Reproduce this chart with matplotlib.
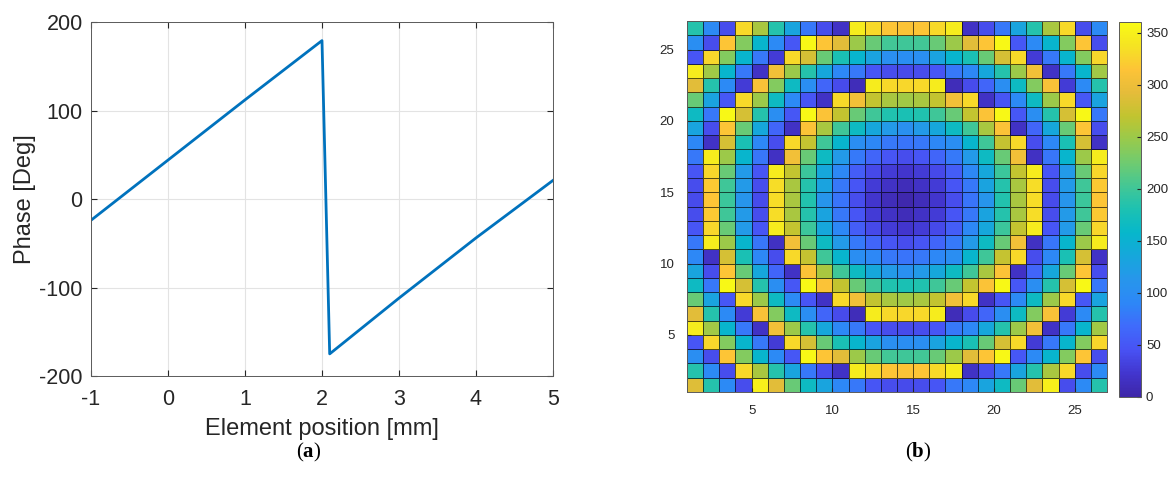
import numpy as np
import matplotlib.pyplot as plt
from matplotlib.colors import LinearSegmentedColormap

plt.rcParams['font.family'] = ['Liberation Sans', 'DejaVu Sans']
plt.rcParams['axes.unicode_minus'] = False
plt.rcParams['mathtext.fontset'] = 'custom'
plt.rcParams['mathtext.bf'] = 'Liberation Serif:bold'
plt.rcParams['mathtext.rm'] = 'Liberation Serif'

# (a) phase along the element line
position_mm = [-1, 0, 1, 2, 2.1, 3, 4, 5]
phase_deg = [-24, 44, 112, 179, -175, -112, -44, 21]
x_ticks_a = [-1, 0, 1, 2, 3, 4, 5]
y_ticks_a = [-200, -100, 0, 100, 200]

# (b) phase map in degrees, rows listed top to bottom as drawn
phase_map_rows = [
    [185, 95, 42, 330, 256, 185, 132, 78, 42, 18, 345, 330, 315, 313, 315, 330, 345, 18, 42, 78, 132, 185, 256, 330, 42, 95],
    [100, 42, 315, 235, 155, 95, 50, 357, 315, 290, 250, 222, 202, 200, 202, 222, 250, 290, 315, 357, 50, 95, 155, 235, 315, 42],
    [48, 328, 235, 155, 78, 28, 330, 282, 222, 178, 155, 130, 102, 100, 102, 130, 155, 178, 222, 282, 330, 28, 78, 155, 235, 328],
    [345, 252, 155, 78, 18, 305, 250, 185, 135, 92, 78, 48, 42, 40, 42, 48, 78, 92, 135, 185, 250, 305, 18, 78, 155, 252],
    [290, 185, 95, 28, 310, 235, 165, 100, 62, 40, 10, 345, 330, 328, 330, 345, 10, 40, 62, 100, 165, 235, 310, 28, 95, 185],
    [222, 130, 50, 330, 250, 165, 95, 48, 18, 330, 305, 270, 256, 252, 256, 270, 305, 330, 18, 48, 95, 165, 250, 330, 50, 130],
    [165, 78, 357, 282, 185, 100, 50, 357, 313, 270, 222, 200, 182, 178, 182, 200, 222, 270, 313, 357, 50, 100, 185, 282, 357, 78],
    [132, 42, 315, 222, 135, 62, 18, 313, 256, 200, 165, 135, 118, 104, 118, 135, 165, 200, 256, 313, 18, 62, 135, 222, 315, 42],
    [92, 18, 282, 178, 92, 42, 330, 272, 200, 155, 100, 92, 78, 75, 78, 92, 100, 155, 200, 272, 330, 42, 92, 178, 282, 18],
    [78, 345, 250, 155, 76, 16, 305, 222, 165, 118, 80, 62, 48, 42, 48, 62, 80, 118, 165, 222, 305, 16, 76, 155, 250, 345],
    [48, 328, 222, 118, 48, 345, 270, 198, 135, 92, 56, 38, 28, 22, 28, 38, 56, 92, 135, 198, 270, 345, 48, 118, 222, 328],
    [42, 318, 200, 118, 42, 332, 256, 185, 130, 78, 48, 28, 18, 10, 18, 28, 48, 78, 130, 185, 256, 332, 42, 118, 200, 318],
    [40, 315, 198, 112, 40, 332, 256, 183, 112, 75, 42, 22, 10, 4, 10, 22, 42, 75, 112, 183, 256, 332, 40, 112, 198, 315],
    [42, 318, 200, 118, 42, 332, 256, 185, 130, 78, 48, 28, 18, 10, 18, 28, 48, 78, 130, 185, 256, 332, 42, 118, 200, 318],
    [48, 328, 222, 118, 48, 345, 270, 198, 135, 92, 56, 38, 28, 22, 28, 38, 56, 92, 135, 198, 270, 345, 48, 118, 222, 328],
    [78, 345, 250, 155, 76, 16, 305, 222, 165, 118, 80, 62, 48, 42, 48, 62, 80, 118, 165, 222, 305, 16, 76, 155, 250, 345],
    [92, 18, 282, 178, 92, 42, 330, 272, 200, 155, 100, 92, 78, 75, 78, 92, 100, 155, 200, 272, 330, 42, 92, 178, 282, 18],
    [132, 42, 315, 222, 135, 62, 18, 313, 256, 200, 165, 135, 118, 104, 118, 135, 165, 200, 256, 313, 18, 62, 135, 222, 315, 42],
    [165, 78, 357, 282, 185, 100, 50, 357, 313, 270, 222, 200, 182, 178, 182, 200, 222, 270, 313, 357, 50, 100, 185, 282, 357, 78],
    [222, 130, 50, 330, 250, 165, 95, 48, 18, 330, 305, 270, 256, 252, 256, 270, 305, 330, 18, 48, 95, 165, 250, 330, 50, 130],
    [290, 185, 95, 28, 310, 235, 165, 100, 62, 40, 10, 345, 330, 328, 330, 345, 10, 40, 62, 100, 165, 235, 310, 28, 95, 185],
    [345, 252, 155, 78, 18, 305, 250, 185, 135, 92, 78, 48, 42, 40, 42, 48, 78, 92, 135, 185, 250, 305, 18, 78, 155, 252],
    [48, 328, 235, 155, 78, 28, 330, 282, 222, 178, 155, 130, 102, 100, 102, 130, 155, 178, 222, 282, 330, 28, 78, 155, 235, 328],
    [100, 42, 315, 235, 155, 95, 50, 357, 315, 290, 250, 222, 202, 200, 202, 222, 250, 290, 315, 357, 50, 95, 155, 235, 315, 42],
    [185, 95, 42, 330, 256, 185, 132, 78, 42, 18, 345, 330, 315, 313, 315, 330, 345, 18, 42, 78, 132, 185, 256, 330, 42, 95],
    [288, 185, 95, 42, 350, 290, 222, 165, 132, 92, 78, 48, 42, 40, 42, 48, 78, 92, 132, 165, 222, 290, 350, 42, 95, 185],
]
map_ticks = [5, 10, 15, 20, 25]
cbar_ticks = [0, 50, 100, 150, 200, 250, 300, 350]

# rough parula
parula = LinearSegmentedColormap.from_list('parula', [
    '#3e26a8', '#4236cf', '#4852f4', '#3f6bfb', '#2d87f7', '#2796eb',
    '#16a7db', '#06b7cb', '#1cc1b2', '#43c795', '#6fcb70', '#98ca4c',
    '#c1c430', '#e5bc3a', '#fdc337', '#f5e323', '#f9fb14'])

axis_gray = '#262626'

fig = plt.figure(figsize=(11.73, 4.88), dpi=100)

# ---- (a) line plot
ax1 = fig.add_axes([0.0776, 0.2295, 0.3938, 0.7254])
ax1.plot(position_mm, phase_deg, color='#0072BD', lw=2.0)
ax1.set_xlim(-1, 5)
ax1.set_ylim(-200, 200)
ax1.set_xticks(x_ticks_a)
ax1.set_yticks(y_ticks_a)
ax1.grid(True, color='#e3e3e3', lw=0.8)
ax1.set_axisbelow(True)
ax1.tick_params(direction='in', labelsize=15.5, colors=axis_gray, length=4,
                top=True, right=True)
ax1.tick_params(axis='x', pad=9)
ax1.tick_params(axis='y', pad=6)
for s in ax1.spines.values():
    s.set_color('#5a5a5a')
    s.set_linewidth(0.7)
ax1.set_xlabel('Element position [mm]', fontsize=17, color=axis_gray, labelpad=6)
ax1.set_ylabel('Phase [Deg]', fontsize=17, color=axis_gray, labelpad=2)

# ---- (b) phase map
ax2 = fig.add_axes([0.5857, 0.1967, 0.358, 0.7602])
grid = np.array(phase_map_rows)[::-1]
edges = np.arange(1, grid.shape[0] + 2)
mesh = ax2.pcolormesh(edges, edges, grid, cmap=parula, vmin=0, vmax=360,
                      edgecolor=(0, 0, 0, 0.65), linewidth=0.6)
ax2.set_xlim(1, 27)
ax2.set_ylim(1, 27)
ax2.set_xticks(map_ticks)
ax2.set_yticks(map_ticks)
ax2.tick_params(direction='in', labelsize=9.5, colors=axis_gray, length=3, pad=9)
for s in ax2.spines.values():
    s.set_color('#5a5a5a')
    s.set_linewidth(0.7)

cax = fig.add_axes([0.954, 0.1865, 0.0188, 0.768])
cb = fig.colorbar(mesh, cax=cax, ticks=cbar_ticks)
cb.ax.tick_params(labelsize=9.5, colors=axis_gray, direction='in', length=3)
cb.outline.set_edgecolor('#5a5a5a')
cb.outline.set_linewidth(0.7)

fig.text(309 / 1173, 1 - 452 / 488, r'($\mathbf{a}$)', fontsize=15,
         ha='center', va='center', family='Liberation Serif')
fig.text(918 / 1173, 1 - 452 / 488, r'($\mathbf{b}$)', fontsize=15,
         ha='center', va='center', family='Liberation Serif')

fig.savefig('out.png', dpi=100)
